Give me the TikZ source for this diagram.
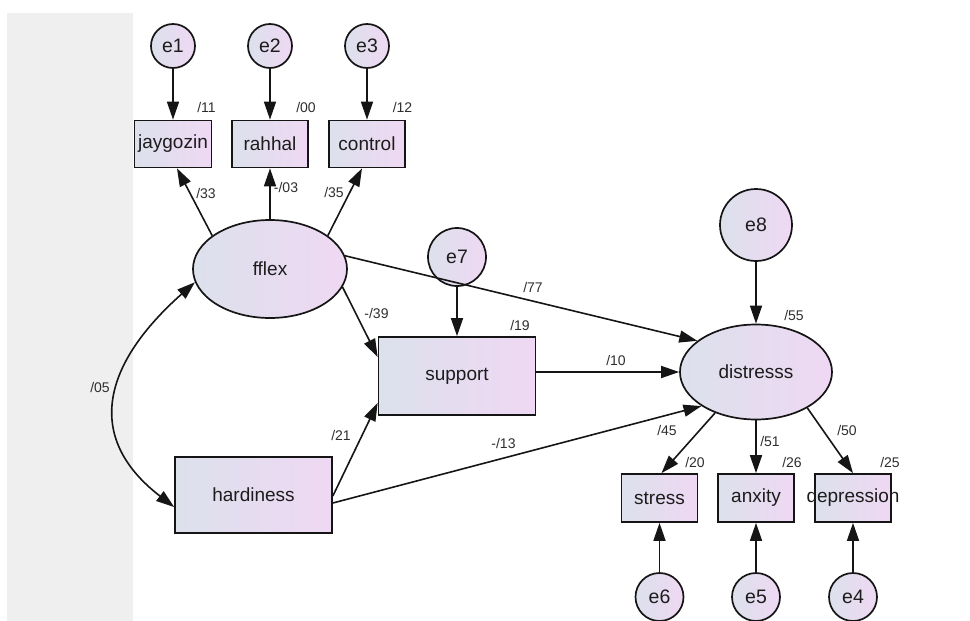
\documentclass[tikz,border=0pt]{standalone}
\usepackage{fontspec}
\setmainfont{Liberation Sans}
\usetikzlibrary{arrows.meta,shapes.geometric}
\definecolor{stripc}{HTML}{EFEFEF}
\definecolor{cL}{HTML}{DCE1EC}
\definecolor{cR}{HTML}{EFD8F3}
\definecolor{linec}{HTML}{151515}
\definecolor{txt}{HTML}{1C1C1C}
\definecolor{lblc}{HTML}{2E2E2E}
\tikzset{
  shapebase/.style={draw=linec, line width=1.7pt, inner sep=0pt, left color=cL, right color=cR, text=txt},
  obs/.style={shapebase, rectangle, minimum width=76pt, minimum height=48pt, font=\fontsize{19}{21}\selectfont},
  lat/.style={shapebase, ellipse, font=\fontsize{19}{21}\selectfont},
  err/.style={shapebase, circle, font=\fontsize{19.5}{21}\selectfont},
  lbl/.style={inner sep=0pt, text=lblc, font=\fontsize{14}{16}\selectfont},
  arr/.style={draw=linec, line width=1.6pt, -{Triangle[length=18pt,width=12pt]}},
  dbl/.style={draw=linec, line width=1.6pt, {Triangle[length=18pt,width=12pt]}-{Triangle[length=18pt,width=12pt]}}
}
\begin{document}
\begin{tikzpicture}[x=1pt,y=-1pt]
\useasboundingbox (0,0) rectangle (970,621);
\fill[stripc] (7,13) rectangle (133,621);
% error terms
\node[err, minimum size=44pt] (e1) at (173,46) {e1};
\node[err, minimum size=44pt] (e2) at (270,46) {e2};
\node[err, minimum size=44pt] (e3) at (367,46) {e3};
% indicators of fflex
\node[obs, minimum width=77pt, minimum height=47pt] (jay) at (173,144) {jaygozin};
\node[obs, minimum height=47pt] (rah) at (270,144) {rahhal};
\node[obs, minimum height=47pt] (con) at (367,144) {control};
% latent fflex
\node[lat, minimum width=154pt, minimum height=98pt] (fflex) at (270,269) {fflex};
\node[err, minimum size=58pt] (e7) at (457,257) {e7};
\node[obs, minimum width=157pt, minimum height=78pt] (support) at (457,376) {support};
\node[obs, minimum width=157pt, minimum height=76pt] (hard) at (253.5,495) {hardiness};
% distress
\node[err, minimum size=72pt] (e8) at (756,225) {e8};
\node[lat, minimum width=152pt, minimum height=95pt] (dist) at (756,372) {distresss};
\node[obs] (stress) at (659.5,498) {stress};
\node[obs] (anx) at (756,498) {anxity};
\node[obs] (dep) at (853,498) {\makebox[60pt]{depression}};
\node[err, minimum size=48pt] (e6) at (659.5,597) {e6};
\node[err, minimum size=48pt] (e5) at (756,597) {e5};
\node[err, minimum size=48pt] (e4) at (853,597) {e4};
% connectors
\draw[arr] (e1) -- (jay);
\draw[arr] (e2) -- (rah);
\draw[arr] (e3) -- (con);
\draw[arr] (fflex.150) -- ([xshift=4pt]jay.south);
\draw[arr] (fflex) -- (rah);
\draw[arr] (fflex.30) -- ([xshift=-5pt]con.south);
\draw[arr] (fflex.10) -- (dist.152);
\draw[arr] (fflex.-14) -- ([yshift=19pt]support.west);
\draw[arr] (e7) -- (support);
\draw[arr] ([yshift=-1pt]hard.east) -- ([yshift=-27pt]support.west);
\draw[arr] ([yshift=-8pt]hard.east) -- (dist.212);
\draw[arr] ([yshift=4pt]support.east) -- (dist.west);
\draw[arr] (e8) -- (dist);
\draw[arr] (dist.225) -- ([xshift=2pt]stress.north);
\draw[arr] (dist) -- (anx);
\draw[arr] (dist.325) -- (dep.north);
\draw[arr] (e6) -- (stress);
\draw[arr] (e5) -- (anx);
\draw[arr] (e4) -- (dep);
\draw[dbl] (fflex.190) .. controls (105,362) and (82,436) .. ([yshift=-12pt]hard.west);
% labels
\node[lbl] (l11) at (206.5,107) {/11};
\node[lbl] (l00) at (306,107) {/00};
\node[lbl] (l12) at (402.5,107) {/12};
\node[lbl] (l33) at (206,193) {/33};
\node[lbl] (l03) at (286,187) {-/03};
\node[lbl] (l35) at (334,192) {/35};
\node[lbl] (l39) at (376.5,313) {-/39};
\node[lbl] (l19) at (520,325) {/19};
\node[lbl] (l77) at (533,287) {/77};
\node[lbl] (l05) at (100,387) {/05};
\node[lbl] (l21) at (341,435) {/21};
\node[lbl] (l13) at (503.5,443.5) {-/13};
\node[lbl] (l10) at (616,360) {/10};
\node[lbl] (l55) at (794,315) {/55};
\node[lbl] (l45) at (667,430) {/45};
\node[lbl] (l51) at (770,441) {/51};
\node[lbl] (l50) at (847,430) {/50};
\node[lbl] (l20) at (695,462) {/20};
\node[lbl] (l26) at (792,462) {/26};
\node[lbl] (l25) at (890,462) {/25};
\end{tikzpicture}
\end{document}
